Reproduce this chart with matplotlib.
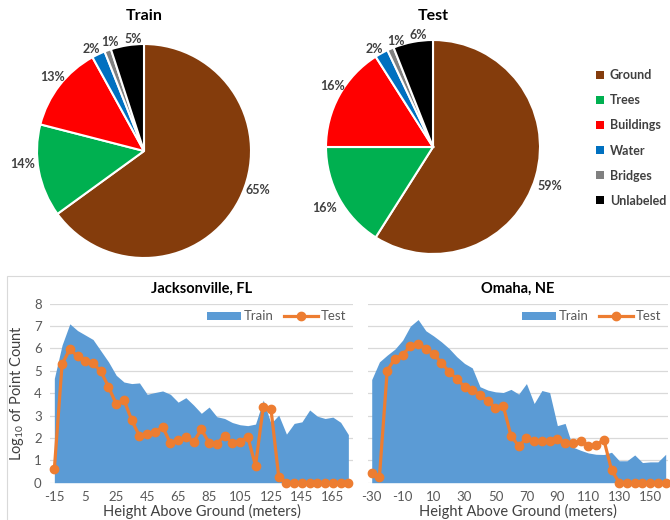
import numpy as np
import matplotlib.pyplot as plt
from matplotlib.patches import Patch, Rectangle
from matplotlib.lines import Line2D

plt.rcParams['font.family'] = ['Lato', 'DejaVu Sans']
plt.rcParams['mathtext.fontset'] = 'custom'
plt.rcParams['mathtext.rm'] = 'Lato'
plt.rcParams['axes.unicode_minus'] = False

# class distribution (percent of points)
classes = ['Ground', 'Trees', 'Buildings', 'Water', 'Bridges', 'Unlabeled']
class_colors = ['#843C0C', '#00B050', '#FF0000', '#0070C0', '#808080', '#000000']
train_share = [65, 14, 13, 2, 1, 5]
test_share = [59, 16, 16, 2, 1, 6]

# log10 point count per 5 m height bin
jax_height = np.arange(-15, 180, 5)
jax_train = [4.66, 6.15, 7.1, 6.8, 6.6, 6.4, 5.9, 5.4, 4.8, 4.5,
             4.43, 4.46, 3.95, 4.03, 4.1, 3.95, 3.6, 3.8, 3.47, 3.1,
             3.38, 2.95, 2.87, 2.69, 2.59, 2.55, 2.62, 3.69, 2.65, 3.02,
             2.17, 2.65, 2.72, 3.25, 2.97, 2.87, 2.93, 2.7, 2.15]
jax_test = [0.6, 5.3, 5.97, 5.65, 5.45, 5.33, 4.98, 4.29, 3.51, 3.69,
            2.8, 2.08, 2.17, 2.25, 2.5, 1.76, 1.9, 2.05, 1.83, 2.38,
            1.79, 1.73, 2.1, 1.79, 1.83, 2.05, 0.76, 3.39, 3.29, 0.27,
            0, 0, 0, 0, 0, 0, 0, 0, 0]
jax_ticks = np.arange(-15, 170, 20)

oma_height = np.arange(-30, 165, 5)
oma_train = [4.61, 5.4, 5.7, 5.97, 6.37, 7.0, 7.29, 6.79, 6.56, 6.3,
             6.0, 5.63, 5.33, 5.13, 4.29, 4.14, 4.06, 4.03, 4.17, 3.96,
             4.43, 3.54, 4.12, 4.03, 2.55, 2.65, 1.59, 1.45, 1.33, 1.27,
             1.26, 1.36, 0.98, 0.98, 1.24, 0.9, 0.93, 0.93, 1.27]
oma_test = [0.45, 0.27, 5.0, 5.55, 5.7, 6.12, 6.22, 5.97, 5.77, 5.36,
            4.96, 4.63, 4.29, 4.14, 3.91, 3.65, 3.36, 3.44, 2.1, 1.64,
            1.98, 1.86, 1.88, 1.88, 1.95, 1.79, 1.76, 1.88, 1.65, 1.68,
            1.93, 0.57, 0, 0, 0, 0, 0, 0, 0]
oma_ticks = np.arange(-30, 160, 20)

W, H = 670, 520
fig = plt.figure(figsize=(W / 100, H / 100), dpi=100)

TEXT = '#404040'
TICK = '#595959'
R_PX = 107   # pie radius in pixels
LIM = 1.3

# label nudges in pixels (right, down) so small slices don't collide
train_nudge = [(7, -15), (-4, -9), (3, -1), (-2, 6), (7, 4), (8, 6)]
test_nudge = [(2, 6), (-3, 3), (5, -3), (-1, 7), (11, 4), (8, 6)]


def draw_pie(cx, cy, shares, title, nudge):
    half = R_PX * LIM
    ax = fig.add_axes([(cx - half) / W, 1 - (cy + half) / H, 2 * half / W, 2 * half / H])
    wedges, _, autotexts = ax.pie(shares, colors=class_colors, startangle=90, counterclock=False,
                                  autopct=lambda p: f'{p:.0f}%', pctdistance=1.12,
                                  wedgeprops=dict(edgecolor='white', linewidth=1.5))
    ax.set_xlim(-LIM, LIM)
    ax.set_ylim(-LIM, LIM)
    for t, (dx, dy) in zip(autotexts, nudge):
        x, y = t.get_position()
        t.set_position((x + dx / R_PX, y - dy / R_PX))
        t.set_fontsize(9)
        t.set_fontweight('bold')
        t.set_color(TEXT)
    fig.text(cx / W, 1 - 16 / H, title, ha='center', va='center',
             fontsize=11.5, fontweight='bold', color='black')
    return wedges


draw_pie(144, 151, train_share, 'Train', train_nudge)
draw_pie(433, 147, test_share, 'Test', test_nudge)

handles = [Patch(facecolor=c, edgecolor='none') for c in class_colors]
leg = fig.legend(handles, classes, loc='center left', bbox_to_anchor=(585 / W, 1 - 138 / H),
                 frameon=False, handlelength=0.6, handleheight=0.6, handletextpad=0.5,
                 labelspacing=1.05, prop=dict(size=9, weight='bold'))
for t in leg.get_texts():
    t.set_color(TEXT)

# frame around the height histograms
fig.add_artist(Rectangle((7 / W, -0.1), 1.2, 0.1 + 1 - 276 / H, transform=fig.transFigure,
                         fill=False, edgecolor='#D9D9D9', linewidth=0.8))


def draw_hist(left, right, x, train, test, ticks, title, xlim, ylabels):
    ax = fig.add_axes([left / W, 1 - 482.7 / H, (right - left) / W, (482.7 - 303.7) / H])
    ax.fill_between(x, train, color='#5B9BD5', linewidth=0, label='Train', zorder=2)
    ax.plot(x, test, color='#ED7D31', linewidth=2.3, marker='o', markersize=6,
            label='Test', zorder=3, clip_on=False)
    ax.set_xlim(*xlim)
    ax.set_ylim(0, 8)
    ax.set_yticks(range(0, 9))
    ax.set_xticks(ticks)
    ax.grid(axis='y', color='#D9D9D9', linewidth=0.9, zorder=0)
    ax.set_axisbelow(True)
    for s in ax.spines.values():
        s.set_visible(False)
    ax.tick_params(length=0, labelsize=9.5, colors=TICK, pad=6)
    if not ylabels:
        ax.set_yticklabels([])
    else:
        ax.set_ylabel('Log$_{10}$ of Point Count', fontsize=10.5, color=TEXT, labelpad=6)
    ax.set_xlabel('Height Above Ground (meters)', fontsize=10.5, color=TEXT, labelpad=1)
    ax.set_title(title, fontsize=10.5, fontweight='bold', color='black', pad=8)
    lh = [Patch(facecolor='#5B9BD5', edgecolor='none'),
          Line2D([], [], color='#ED7D31', linewidth=2.3, marker='o', markersize=6)]
    lg = ax.legend(lh, ['Train', 'Test'], loc='upper right', ncol=2, frameon=False,
                   fontsize=9.5, handlelength=2.6, handleheight=0.55, columnspacing=0.8,
                   handletextpad=0.2, borderaxespad=0.1)
    for t in lg.get_texts():
        t.set_color(TICK)
    return ax


draw_hist(50, 353, jax_height, jax_train, jax_test, jax_ticks, 'Jacksonville, FL',
          (-17.8, 178), True)
draw_hist(368, 668, oma_height, oma_train, oma_test, oma_ticks, 'Omaha, NE',
          (-32.4, 161.5), False)

plt.savefig('out.png', dpi=100)
